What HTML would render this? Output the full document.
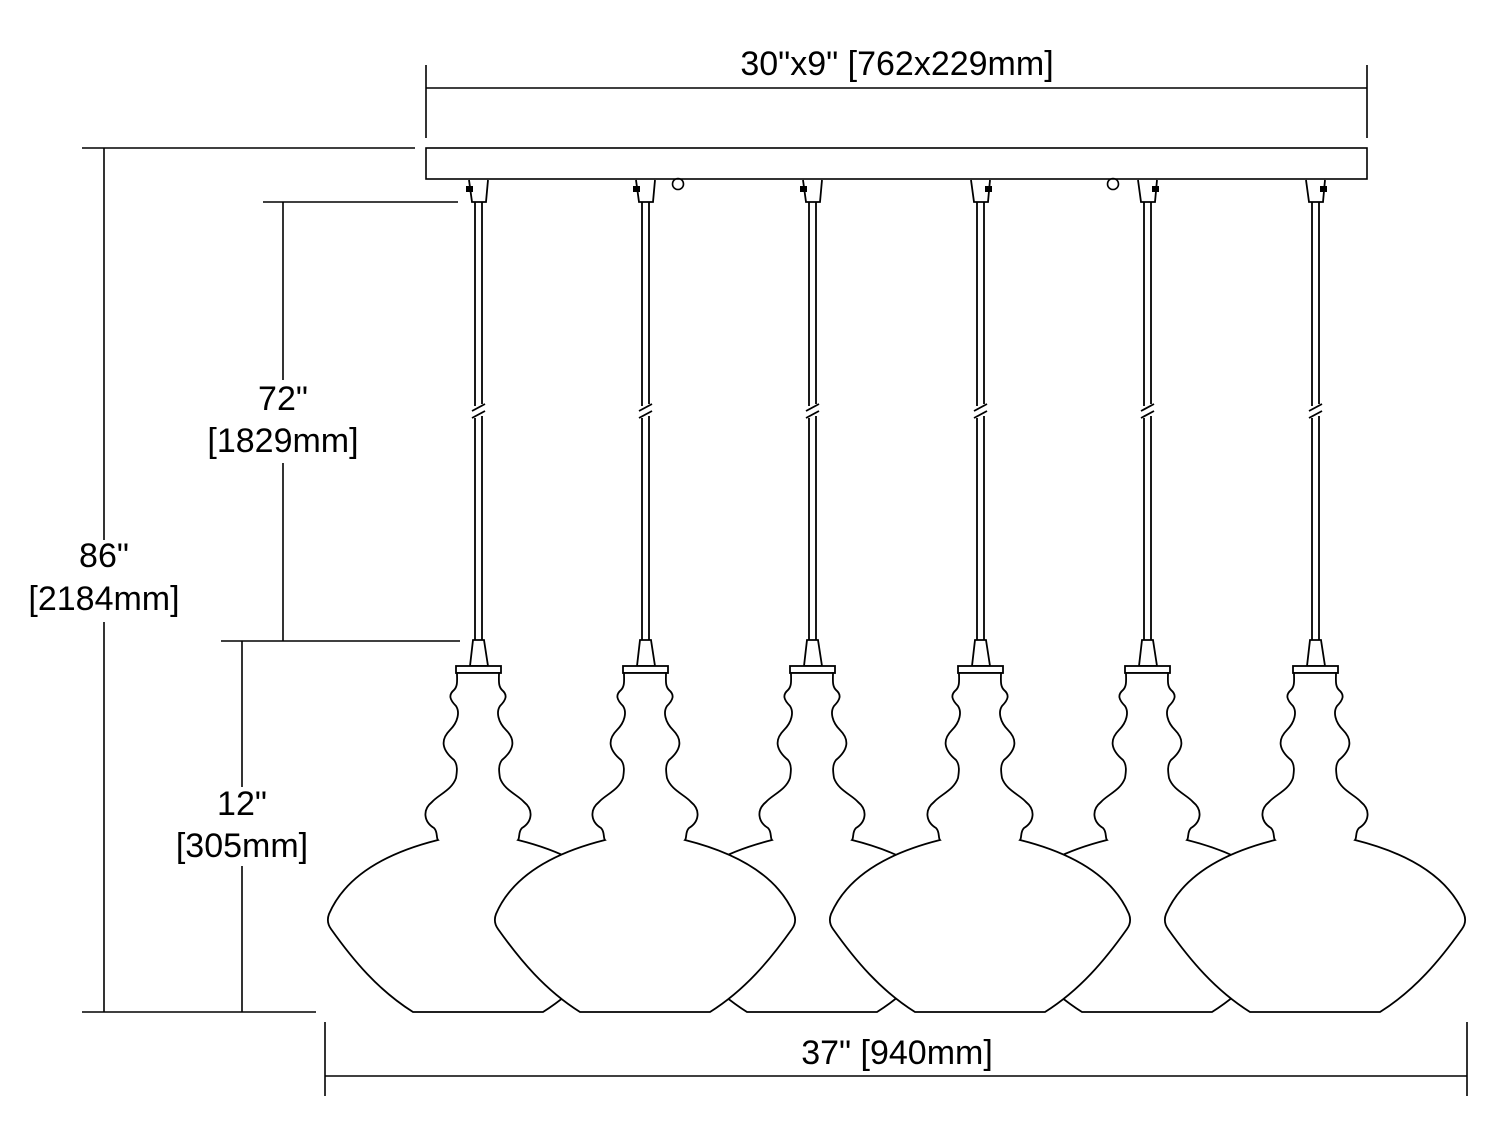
<!DOCTYPE html>
<html><head><meta charset="utf-8"><style>
html,body{margin:0;padding:0;background:#fff;}
svg{display:block}
text{font-family:"Liberation Sans",Arial,sans-serif;font-size:34px;fill:#000;text-anchor:middle}
</style></head><body>
<svg width="1500" height="1148" viewBox="0 0 1500 1148" xmlns="http://www.w3.org/2000/svg">
<defs>
<g id="rod" fill="none" stroke="#000" stroke-width="1.8">
  <path d="M-9,180 L-6,202 L8,202 L10,180" fill="#fff"/>
  <line x1="-3" y1="202" x2="-3" y2="406"/><line x1="4" y1="202" x2="4" y2="404"/>
  <line x1="-3" y1="418" x2="-3" y2="640"/><line x1="4" y1="416" x2="4" y2="640"/>
  <line x1="-6" y1="411" x2="7" y2="404"/>
  <line x1="-6" y1="418" x2="7" y2="411"/>
  <path d="M-5,640 L-8,666 L10,666 L6,640 Z" fill="#fff"/>
</g>
<g id="shade" stroke="#000" stroke-width="1.8" fill="#fff">
  <rect x="-22" y="666" width="45" height="7"/>
  <path d="M-21,673 C-21,680 -20,686 -24,690 C-30,695 -28,700 -22,706 C-18,712 -20,722 -28,730 C-38,740 -36,750 -24,760 C-20,765 -21,772 -22,778 C-26,790 -40,795 -46,802 C-56,810 -54,822 -44,828 C-40,832 -42,838 -40,840 C-80,850 -130,870 -149,914 Q-152,922 -147,929 C-125,960 -100,990 -65,1012 L65,1012 C100,990 125,960 147,929 Q152,922 149,914 C130,870 80,850 40,840 C42,838 40,832 44,828 C54,822 56,810 46,802 C40,795 26,790 22,778 C21,772 20,765 24,760 C36,750 38,740 28,730 C20,722 18,712 22,706 C28,700 30,695 24,690 C20,686 21,680 21,673 Z"/>
</g>
</defs>

<g stroke="#000" stroke-width="1.6" fill="none">
  <line x1="426" y1="65" x2="426" y2="138"/>
  <line x1="1367" y1="65" x2="1367" y2="138"/>
  <line x1="426" y1="88" x2="1367" y2="88"/>
  <rect x="426" y="148" width="941" height="31"/>
  <circle cx="678" cy="184" r="5.5"/>
  <circle cx="1113" cy="184" r="5.5"/>
  <line x1="82" y1="148" x2="415" y2="148"/>
  <line x1="82" y1="1012" x2="316" y2="1012"/>
  <line x1="104" y1="148" x2="104" y2="540"/>
  <line x1="104" y1="622" x2="104" y2="1012"/>
  <line x1="263" y1="202" x2="458" y2="202"/>
  <line x1="221" y1="641" x2="460" y2="641"/>
  <line x1="283" y1="202" x2="283" y2="380"/>
  <line x1="283" y1="463" x2="283" y2="641"/>
  <line x1="242" y1="641" x2="242" y2="787"/>
  <line x1="242" y1="866" x2="242" y2="1012"/>
  <line x1="325" y1="1022" x2="325" y2="1096"/>
  <line x1="1467" y1="1022" x2="1467" y2="1096"/>
  <line x1="325" y1="1076" x2="1467" y2="1076"/>
</g>

<g>
  <use href="#rod" transform="translate(478,0)"/>
  <use href="#rod" transform="translate(645,0)"/>
  <use href="#rod" transform="translate(812,0)"/>
  <use href="#rod" transform="translate(980,0)"/>
  <use href="#rod" transform="translate(1147,0)"/>
  <use href="#rod" transform="translate(1315,0)"/>
</g>
<g fill="#000">
  <rect x="466" y="186" width="7" height="6"/>
  <rect x="633" y="186" width="7" height="6"/>
  <rect x="800" y="186" width="7" height="6"/>
  <rect x="985" y="186" width="7" height="6"/>
  <rect x="1152" y="186" width="7" height="6"/>
  <rect x="1320" y="186" width="7" height="6"/>
</g>
<g>
  <use href="#shade" transform="translate(478,0)"/>
  <use href="#shade" transform="translate(812,0)"/>
  <use href="#shade" transform="translate(1147,0)"/>
  <use href="#shade" transform="translate(645,0)"/>
  <use href="#shade" transform="translate(980,0)"/>
  <use href="#shade" transform="translate(1315,0)"/>
</g>

<text x="897" y="75">30"x9" [762x229mm]</text>
<text x="104" y="567">86"</text>
<text x="104" y="610">[2184mm]</text>
<text x="283" y="410">72"</text>
<text x="283" y="452">[1829mm]</text>
<text x="242" y="815">12"</text>
<text x="242" y="857">[305mm]</text>
<text x="897" y="1064">37" [940mm]</text>
</svg>
</body></html>
